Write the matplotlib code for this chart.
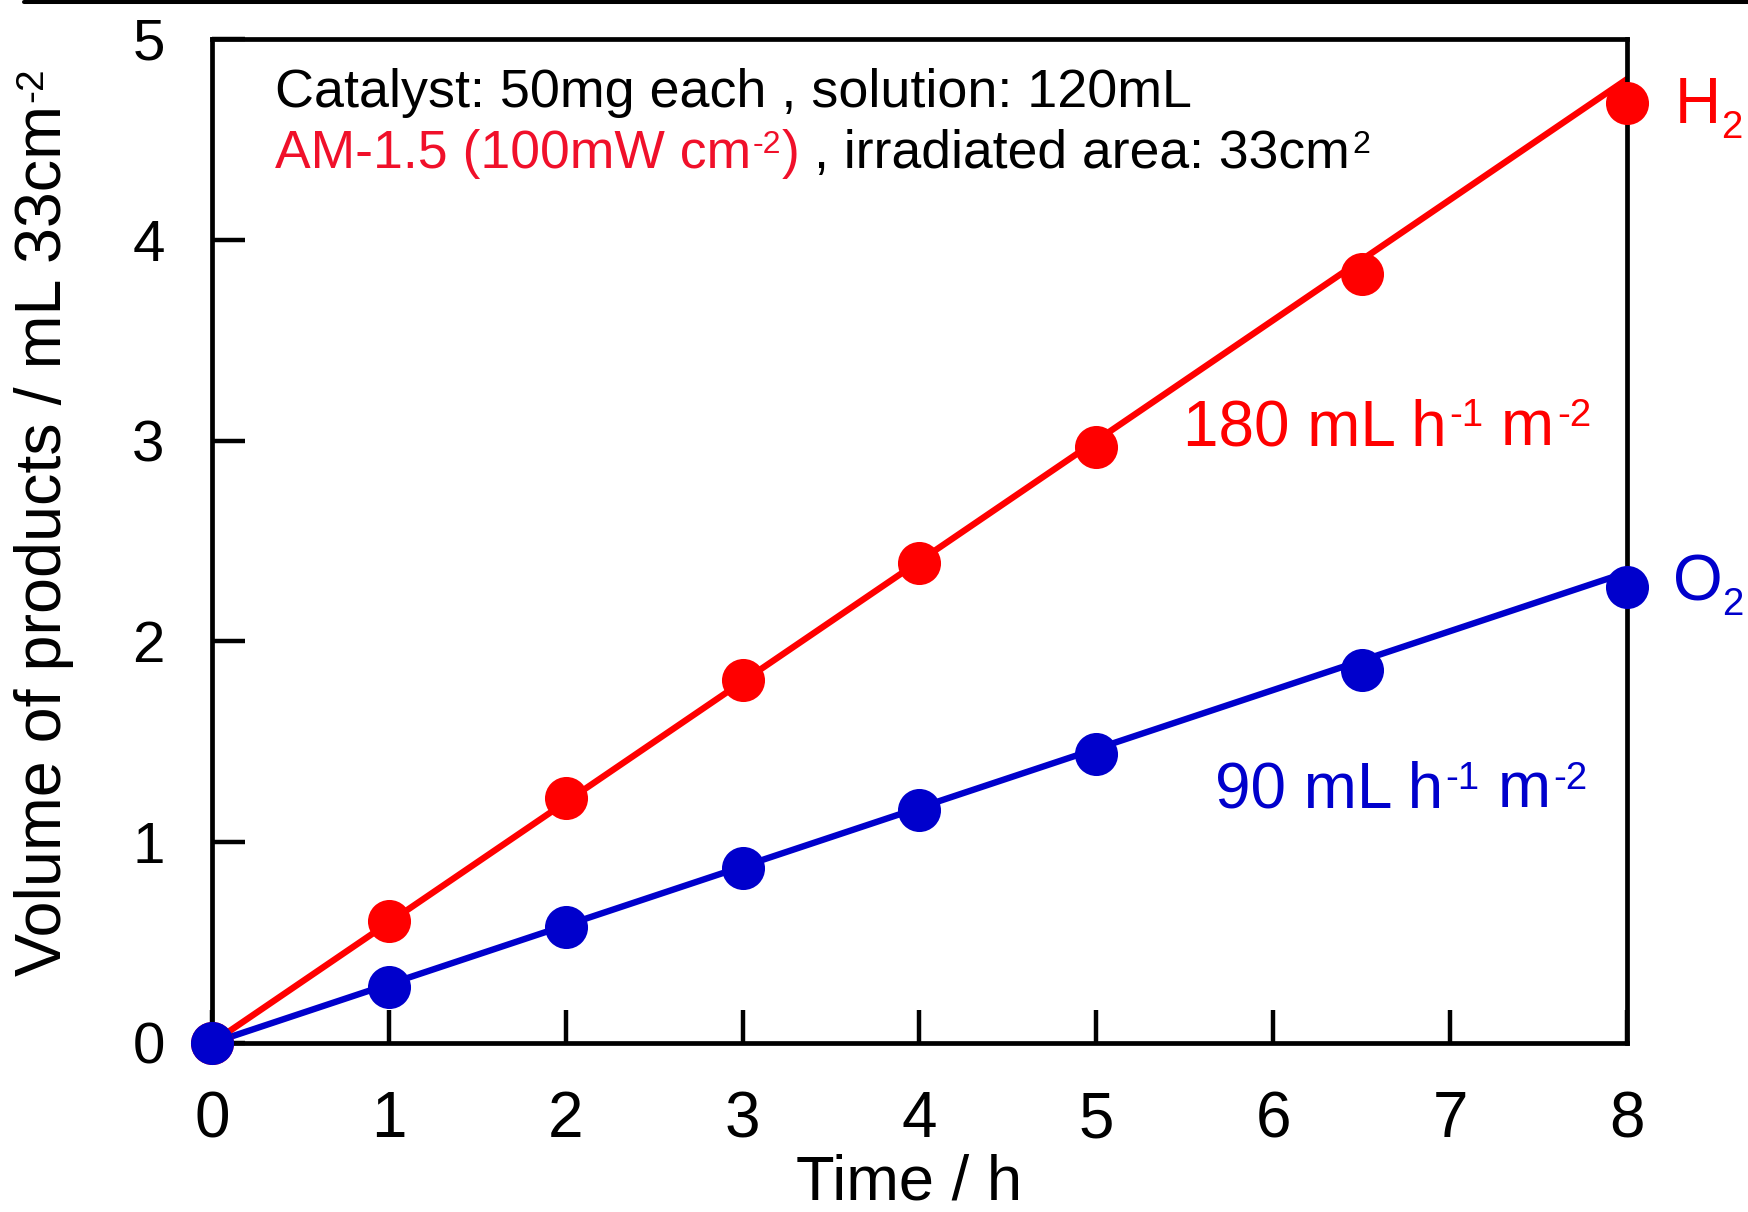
import matplotlib
matplotlib.use("Agg")
import matplotlib.pyplot as plt
from matplotlib.lines import Line2D
from matplotlib.transforms import offset_copy
import numpy as np

plt.rcParams['font.family'] = ['Liberation Sans', 'DejaVu Sans']

# Irradiation time (h) and evolved gas volumes (mL per 33 cm2)
time_h = [0, 1, 2, 3, 4, 5, 6.5, 8]
h2_ml = [0.0, 0.61, 1.22, 1.81, 2.39, 2.97, 3.83, 4.68]
o2_ml = [0.0, 0.28, 0.58, 0.87, 1.16, 1.44, 1.86, 2.27]

# Linear evolution rates (mL/h over the irradiated area)
h2_rate = 0.60
o2_rate = 0.293

x_ticks = [0, 1, 2, 3, 4, 5, 6, 7, 8]
y_ticks = [0, 1, 2, 3, 4, 5]

RED = '#ff0000'
TEXT_RED = '#f0102a'
BLUE = '#0000cc'

fig = plt.figure(figsize=(17.49, 12.12), dpi=100)
W, H = 1749.0, 1212.0
ax = fig.add_axes([212 / W, 1 - 1043 / H, (1627 - 212) / W, (1043 - 39) / H])
renderer = fig.canvas.get_renderer()


def advance(s, fs):
    """Pen advance of a string in pixels (spaces included)."""
    t1 = fig.text(0, 0, '|' + s + '|', fontsize=fs)
    t2 = fig.text(0, 0, '||', fontsize=fs)
    w = t1.get_window_extent(renderer).width - t2.get_window_extent(renderer).width
    t1.remove()
    t2.remove()
    return w


def rich_text(x, y, runs, size, transform, rotation=0):
    """Draw a run of text pieces with plain, superscript and subscript parts."""
    pen = 0.0
    px_per_pt = fig.dpi / 72.0
    for s, kind, col in runs:
        if kind == 'sup':
            fs, rise = size * 0.6, size * 0.29
            pen += 0.04 * size * px_per_pt
        elif kind == 'sub':
            fs, rise = size * 0.6, -size * 0.23
        else:
            fs, rise = size, 0.0
        body = s.lstrip(' ')
        if len(body) < len(s):
            pen += advance(s[:len(s) - len(body)], fs)
        a_pt = pen / px_per_pt
        if rotation == 0:
            dx, dy = a_pt, rise
        else:
            dx, dy = -rise, a_pt
        tr = offset_copy(transform, fig=fig, x=dx, y=dy, units='points')
        fig.text(x, y, body, fontsize=fs, color=col, transform=tr,
                 ha='left', va='baseline', rotation=rotation,
                 rotation_mode='anchor')
        pen += advance(body, fs)


fit_t = np.array([0, 8.0])
ax.plot(fit_t, h2_rate * fit_t, color=RED, lw=4.6, zorder=2)
ax.plot(fit_t, o2_rate * fit_t, color=BLUE, lw=4.6, zorder=2)
ax.plot(time_h, h2_ml, 'o', color=RED, ms=31, mec='none', clip_on=False, zorder=3)
ax.plot(time_h, o2_ml, 'o', color=BLUE, ms=31, mec='none', clip_on=False, zorder=4)

ax.set_xlim(0, 8)
ax.set_ylim(0, 5)
ax.set_xticks(x_ticks)
ax.set_yticks(y_ticks)
ax.tick_params(direction='in', length=24, width=3.2, top=False, right=False)
ax.tick_params(axis='x', pad=34, labelsize=46)
ax.tick_params(axis='y', pad=34, labelsize=42)
for s in ax.spines.values():
    s.set_linewidth(3.4)

# Axis titles
ax.set_xlabel('Time / h', fontsize=45.5)
ax.xaxis.label.set_verticalalignment('baseline')
ax.xaxis.set_label_coords(0.4926, -0.1554)

rich_text(61 / W, 1 - 976 / H,
          [('Volume of products / mL 33cm', 'n', 'black'), ('-2', 'sup', 'black')],
          46.5, fig.transFigure, rotation=90)

# Experimental conditions
rich_text(0.355, 4.66, [('Catalyst: 50mg each , solution: 120mL', 'n', 'black')],
          38.8, ax.transData)
rich_text(0.355, 4.357,
          [('AM-1.5 (100mW cm', 'n', TEXT_RED), ('-2', 'sup', TEXT_RED),
           (')', 'n', TEXT_RED), (' , irradiated area: 33cm', 'n', 'black'),
           ('2', 'sup', 'black')],
          38.5, ax.transData)

# Series labels and rates
rich_text(8.27, 4.58, [('H', 'n', RED), ('2', 'sub', RED)], 46, ax.transData)
rich_text(8.26, 2.206, [('O', 'n', BLUE), ('2', 'sub', BLUE)], 46, ax.transData)
rich_text(5.49, 2.978,
          [('180 mL h', 'n', RED), ('-1', 'sup', RED), (' m', 'n', RED),
           ('-2', 'sup', RED)], 46, ax.transData)
rich_text(5.67, 1.175,
          [('90 mL h', 'n', BLUE), ('-1', 'sup', BLUE), (' m', 'n', BLUE),
           ('-2', 'sup', BLUE)], 46, ax.transData)

# Rule along the top edge
fig.add_artist(Line2D([24 / W, 1.0], [1 - 2 / H, 1 - 2 / H], color='black',
                      lw=2.9, solid_capstyle='round', transform=fig.transFigure))

fig.savefig('out.png', dpi=100)
